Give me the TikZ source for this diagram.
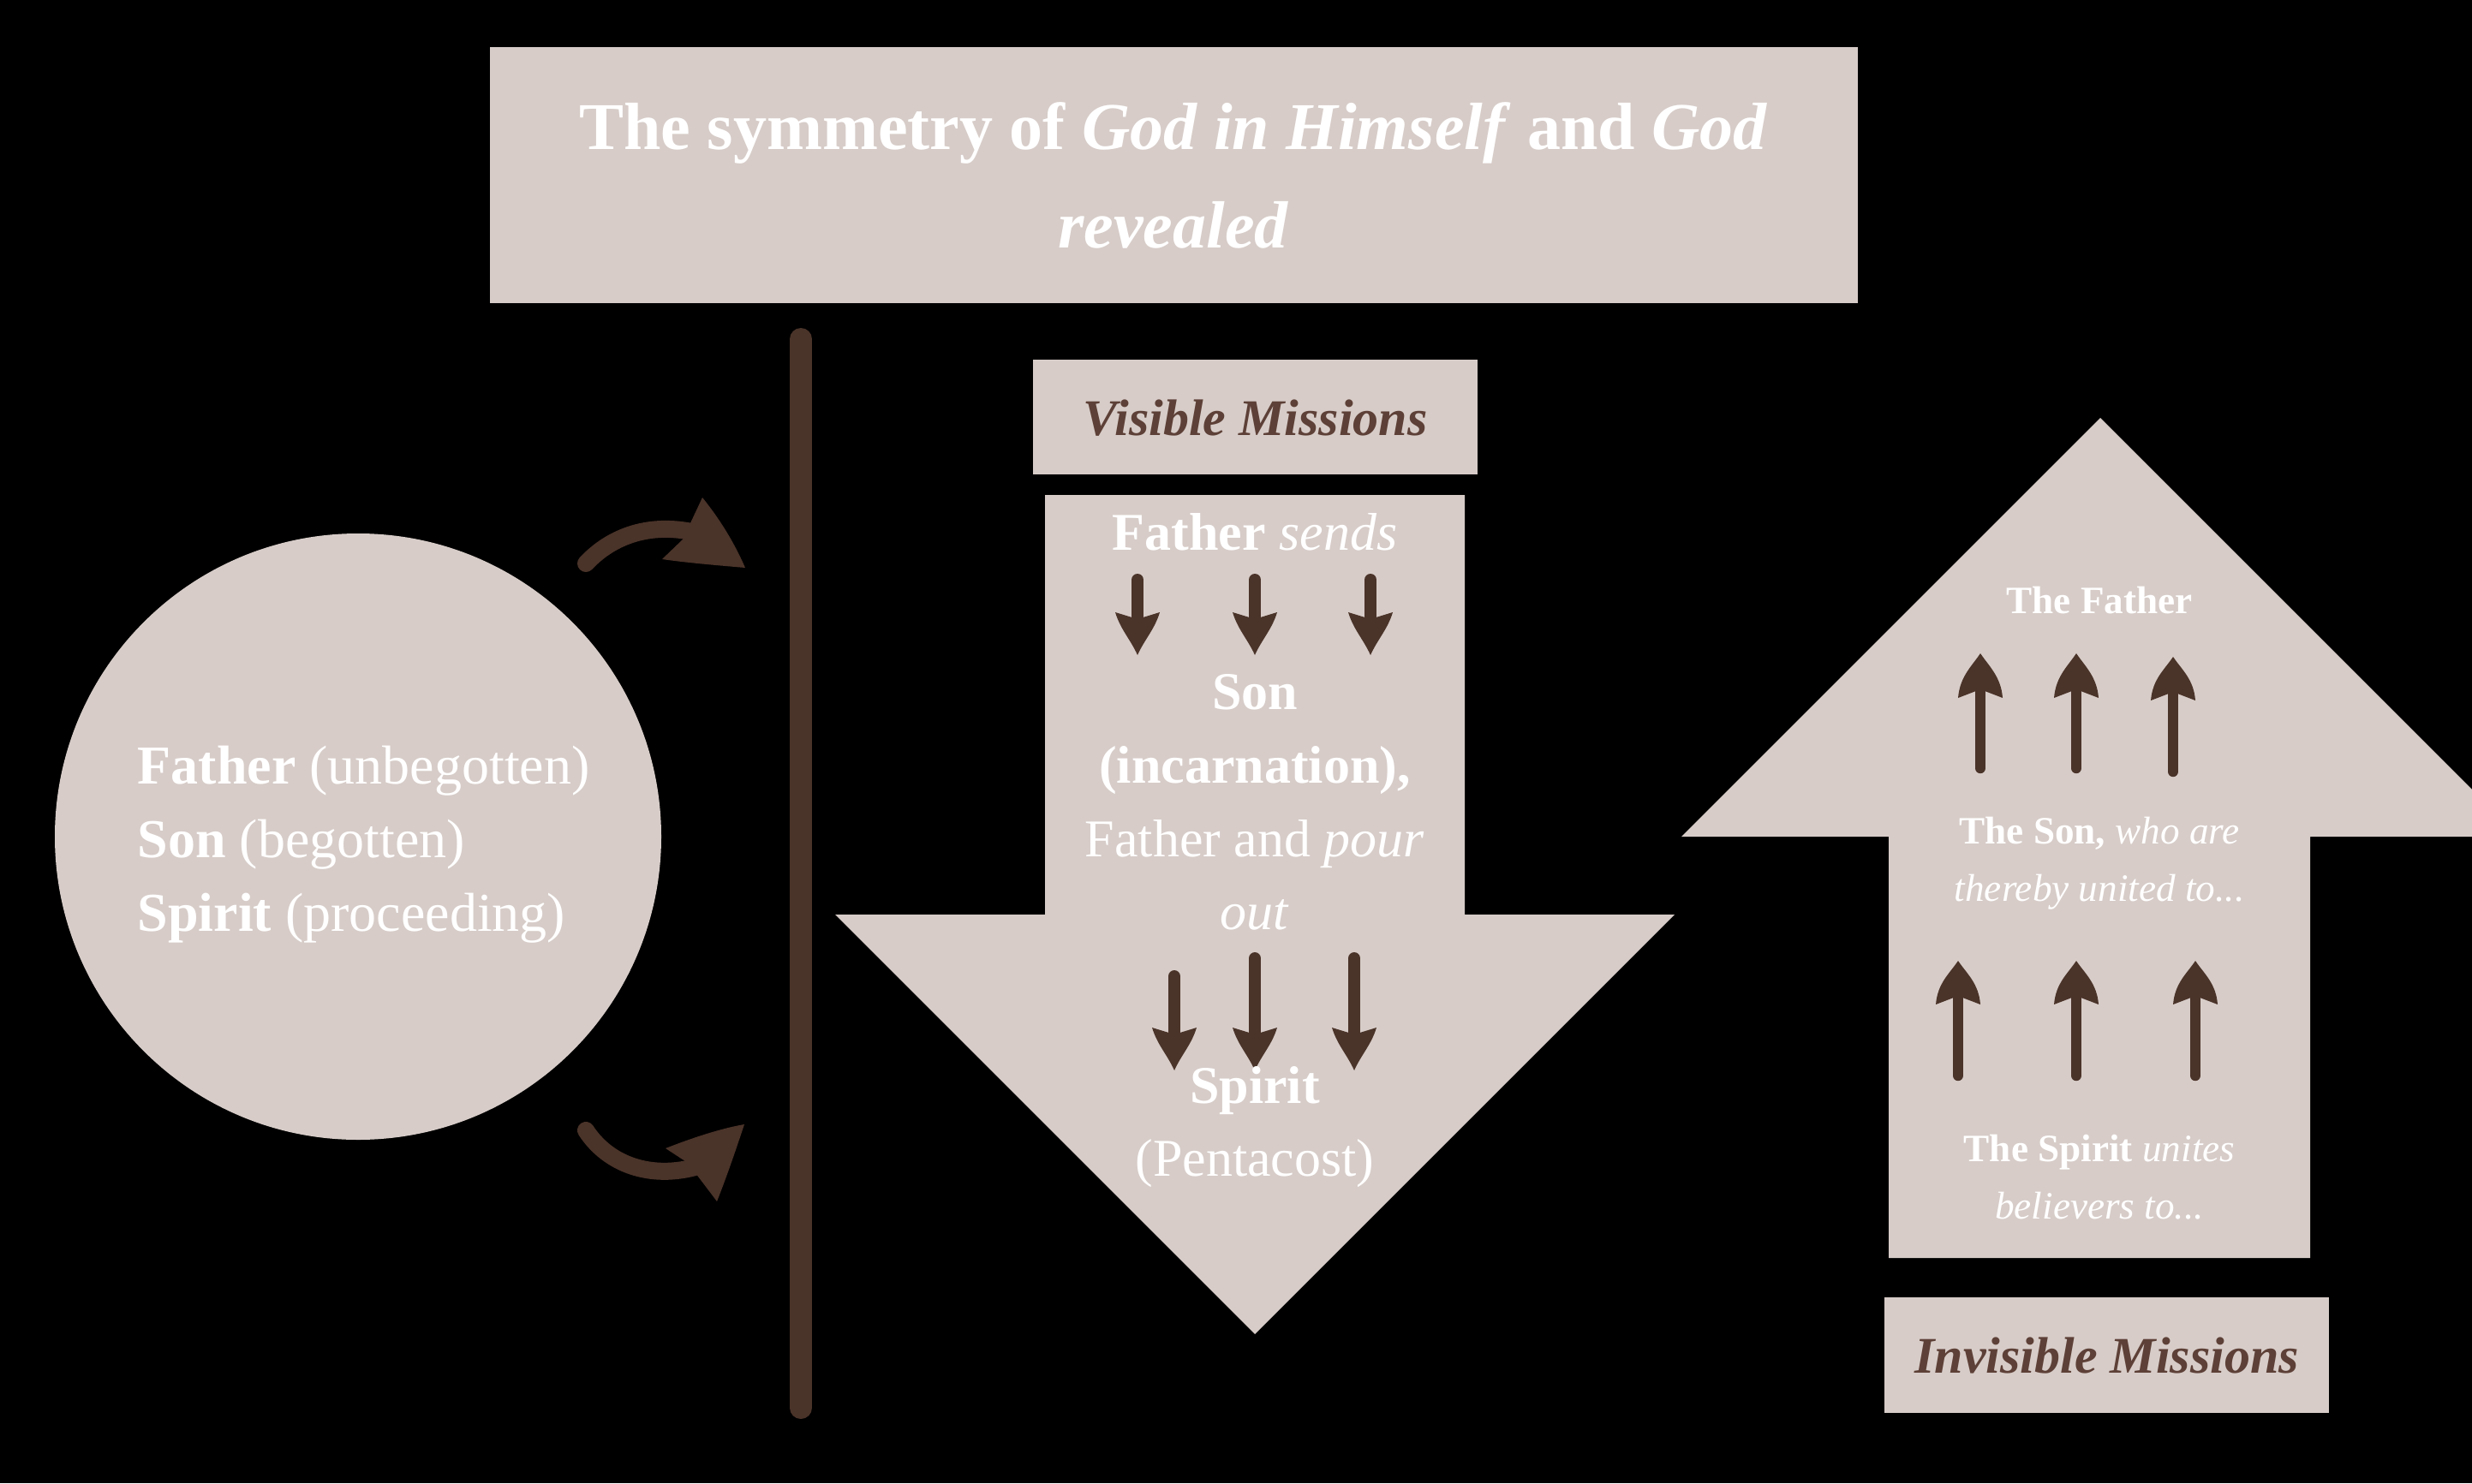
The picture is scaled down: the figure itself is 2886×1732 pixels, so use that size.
\documentclass[tikz,border=0pt]{standalone}
\usepackage{fontspec}
\setmainfont{Liberation Serif}
\definecolor{boxfill}{HTML}{D7CCC8}
\definecolor{arrbrown}{HTML}{4A3329}
\definecolor{lblbrown}{HTML}{5D4037}
% small down arrow: x, visible top of shaft, head base, tip
\newcommand\dnarr[4]{%
  \draw[shaft, line width=3.5pt] (#1,{#2+7}) -- (#1,{#3+6});
  \fill[arrbrown] (#1,#4) .. controls ({#1-8},{#4-18}) and ({#1-20},{#3+20}) .. ({#1-26},#3)
    -- (#1,{#3+8}) -- ({#1+26},#3) .. controls ({#1+20},{#3+20}) and ({#1+8},{#4-18}) .. (#1,#4) -- cycle;}
% small up arrow: x, visible bottom of shaft, head base, tip
\newcommand\uparr[4]{%
  \draw[shaft, line width=3.1pt] (#1,{#2-6}) -- (#1,{#3-8});
  \fill[arrbrown] (#1,#4) .. controls ({#1-10},{#4+15}) and ({#1-24},{#3-25}) .. ({#1-26},#3)
    -- (#1,{#3-10}) -- ({#1+26},#3) .. controls ({#1+24},{#3-25}) and ({#1+10},{#4+15}) .. (#1,#4) -- cycle;}
\begin{document}
\begin{tikzpicture}[x=0.25pt,y=-0.25pt,
  panel/.style={fill=boxfill, draw=none, inner sep=0pt},
  shaft/.style={draw=arrbrown, line cap=round},
  txt/.style={text=white, inner sep=0pt, anchor=base},
  titletxt/.style={txt, font=\fontsize{19.5pt}{28.75pt}\selectfont},
  circtxt/.style={txt, anchor=base west, font=\fontsize{16pt}{23pt}\selectfont},
  dntxt/.style={txt, font=\fontsize{15.5pt}{21.5pt}\selectfont},
  uptxt/.style={txt, font=\fontsize{11.3pt}{17pt}\selectfont},
  lbltxt/.style={inner sep=0pt, anchor=base, text=lblbrown, font=\fontsize{15pt}{18pt}\selectfont\bfseries\itshape}]
\useasboundingbox (0,0) rectangle (2886,1732);
\clip (0,0) rectangle (2886,1732);
\fill[black] (0,0) rectangle (2886,1732);

% title
\node[panel, minimum width=399.25pt, minimum height=74.75pt] (titlebox) at (1370.5,204.5) {};
\node[titletxt] (title1) at (1370,175) {\textbf{The symmetry of \textit{God in Himself} and \textit{God}}};
\node[titletxt] (title2) at (1370,290) {\textbf{\textit{revealed}}};

% divider
\draw[shaft, line width=6.5pt] (935,396) -- (935,1644);

% circle
\node[panel, circle, minimum size=177pt] (godcircle) at (418,977) {};
\node[circtxt] (c1) at (160,915) {\textbf{Father} (unbegotten)};
\node[circtxt] (c2) at (160,1001) {\textbf{Son} (begotten)};
\node[circtxt] (c3) at (160,1087) {\textbf{Spirit} (proceeding)};

% curved arrows
\draw[shaft, line width=5pt] (684,658) .. controls (715,625) and (760,610) .. (812,622);
\fill[arrbrown] (820,581) .. controls (845,612) and (860,640) .. (870,663)
  .. controls (835,660) and (800,657) .. (773,653) -- (797,630) -- cycle;
\draw[shaft, line width=5pt] (684,1320) .. controls (710,1360) and (760,1378) .. (815,1362);
\fill[arrbrown] (869,1313) .. controls (840,1318) and (805,1330) .. (777,1341)
  -- (803,1358) -- (837,1403) .. controls (850,1370) and (860,1340) .. (869,1313) -- cycle;

% visible missions
\node[panel, minimum width=129.75pt, minimum height=33.5pt] (visbox) at (1465.5,487) {};
\node[lbltxt] (vislbl) at (1465.5,508) {Visible Missions};

\fill[boxfill] (1220,578) -- (1710,578) -- (1710,1068) -- (1955,1068) -- (1465,1558)
  -- (975,1068) -- (1220,1068) -- cycle;

\dnarr{1328}{670}{715}{765}
\dnarr{1465}{670}{715}{765}
\dnarr{1600}{670}{715}{765}
\dnarr{1371}{1133}{1200}{1250}
\dnarr{1465}{1112}{1200}{1250}
\dnarr{1581}{1112}{1200}{1250}

\node[dntxt] (d1) at (1465,642) {\textbf{Father} \textit{sends}};
\node[dntxt] (d2) at (1465,828) {\textbf{Son}};
\node[dntxt] (d3) at (1465,914) {\textbf{(incarnation),}};
\node[dntxt] (d4) at (1465,1000) {Father and \textit{pour}};
\node[dntxt] (d5) at (1465,1085) {\textit{out}};
\node[dntxt] (d6) at (1465,1288) {\textbf{Spirit}};
\node[dntxt] (d7) at (1465,1373) {(Pentacost)};

% invisible missions
\fill[boxfill] (2452,488) -- (2941,977) -- (2697,977) -- (2697,1469) -- (2205,1469)
  -- (2205,977) -- (1963,977) -- cycle;

\uparr{2312}{903}{815}{763}
\uparr{2424}{903}{815}{763}
\uparr{2537}{907}{818}{767}
\uparr{2286}{1262}{1173}{1122}
\uparr{2424}{1262}{1173}{1122}
\uparr{2563}{1262}{1173}{1122}

\node[uptxt] (u1) at (2451,716) {\textbf{The Father}};
\node[uptxt] (u2) at (2451,985) {\textbf{The Son,} \textit{who are}};
\node[uptxt] (u3) at (2451,1052) {\textit{thereby united to...}};
\node[uptxt] (u4) at (2451,1356) {\textbf{The Spirit} \textit{unites}};
\node[uptxt] (u5) at (2451,1423) {\textit{believers to...}};

\node[panel, minimum width=129.75pt, minimum height=33.75pt] (invisbox) at (2459.5,1582.5) {};
\node[lbltxt] (invislbl) at (2459.5,1603) {Invisible Missions};
\end{tikzpicture}
\end{document}
